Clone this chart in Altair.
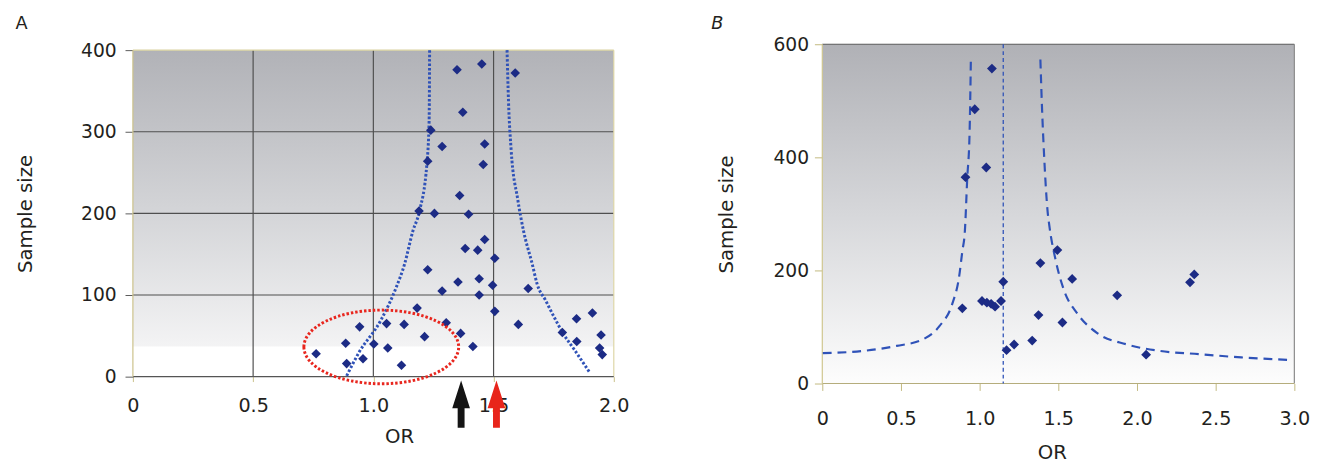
import altair as alt
import pandas as pd

FONT = "DejaVu Sans"
TXT = "#231f20"
PT = "#1c2b85"
LINE = "#2f52b8"

# ---------------- Panel A data ----------------
a_or = [1.348, 1.451, 1.590, 1.372, 1.239, 1.286, 1.463, 1.226, 1.457, 1.359, 1.190, 1.254, 1.396,
        1.463, 1.382, 1.434, 1.505, 1.226, 1.352, 1.440, 1.496, 1.286, 1.440, 1.644, 1.182, 1.505,
        1.128, 1.303, 1.603, 1.213, 1.363, 1.414, 1.117, 0.762, 0.885, 0.943, 0.889, 0.957, 1.002,
        1.055, 1.060, 1.845, 1.911, 1.786, 1.846, 1.947, 1.941, 1.952]
a_n = [376, 383, 372, 324, 302, 282, 285, 264, 260, 222, 203, 200, 199,
       168, 157, 155, 145, 131, 116, 120, 112, 105, 100, 108, 84, 80,
       64, 66, 64, 49, 53, 37, 14, 28, 41, 61, 16, 22, 40,
       65, 35, 71, 78, 54, 43, 51, 35, 27]

a_left_or = [0.889, 0.939, 1.032, 1.096, 1.130, 1.164, 1.191, 1.223, 1.232, 1.234]
a_left_n = [1, 29, 69.5, 110, 138, 178, 202, 262, 314, 400]
a_right_or = [1.900, 1.836, 1.789, 1.751, 1.716, 1.681, 1.661, 1.625, 1.600, 1.573, 1.562, 1.556]
a_right_n = [5, 33, 53, 73.5, 93.6, 113.6, 137.7, 178, 218, 278, 338, 400]

a_grid_x = [0.5, 1.0, 1.5]
a_grid_y = [100, 200, 300]
a_xticks = [0, 0.5, 1.0, 1.5, 2.0]
a_yticks = [0, 100, 200, 300, 400]

a_arrow_or = [1.365, 1.512]
a_arrow_col = ["black", "red"]
a_ellipse_or = [1.033]
a_ellipse_n = [36.4]

# ---------------- Panel B data ----------------
b_or = [1.078, 0.969, 1.042, 0.910, 0.890, 1.015, 1.046, 1.073, 1.098, 1.136, 1.150, 1.171,
        1.219, 1.334, 1.374, 1.386, 1.494, 1.588, 1.526, 1.874, 2.058, 2.337, 2.364]
b_n = [557, 485, 382, 365, 133, 146, 143, 141, 136, 146, 180, 59,
       69, 76, 121, 213, 236, 185, 108, 156, 51, 179, 193]

b_left_or = [0.003, 0.264, 0.472, 0.639, 0.743, 0.827, 0.869, 0.890, 0.906, 0.921, 0.936, 0.944]
b_left_n = [53.8, 57.8, 66.5, 78, 101, 141.7, 188, 234, 269, 362, 443, 570]
b_right_or = [1.386, 1.397, 1.411, 1.432, 1.442, 1.484, 1.536, 1.620, 1.745, 1.932, 2.141, 2.392, 2.663, 2.976]
b_right_n = [573, 483, 396, 304, 281, 217, 165, 124, 89.6, 69.4, 57.8, 52, 46.2, 41.6]
b_vline_or = [1.15]
b_xticks = [0, 0.5, 1.0, 1.5, 2.0, 2.5, 3.0]
b_yticks = [0, 200, 400, 600]

# panel A's plot sits a little lower than panel B's: OFF px of empty space above it
OFF = 6
WA, HA = 489, 332
HA_T = HA + OFF
WB, HB = 480, 345

one = pd.DataFrame({"k": [0]})
LBL = "datum.value == 0 ? '0' : format(datum.value, '.1f')"


def axis_x(values, tick_col, tick_size, pad, tx, ty):
    return alt.Axis(values=values, labelExpr=LBL, domain=False, grid=False, ticks=True,
                    tickSize=tick_size, tickColor=tick_col, tickWidth=1,
                    labelFont=FONT, labelFontSize=19.5, labelColor=TXT, labelPadding=pad,
                    labelFlush=False, title="OR", titleFont=FONT, titleFontSize=20,
                    titleFontWeight="normal", titleColor=TXT, titleX=tx, titleY=ty,
                    titleAlign="center", titleBaseline="middle")


def axis_y(values, tick_col, pad, tx, ty):
    return alt.Axis(values=values, format="d", domain=False, grid=False, ticks=True,
                    tickSize=8, tickColor=tick_col, tickWidth=1,
                    labelFont=FONT, labelFontSize=19, labelColor=TXT, labelPadding=pad,
                    labelFlush=False, title="Sample size", titleFont=FONT, titleFontSize=20,
                    titleFontWeight="normal", titleColor=TXT, titleX=tx, titleY=ty,
                    titleAngle=-90, titleAlign="center", titleBaseline="middle")


def gradient(stops):
    return alt.LinearGradient(gradient="linear", x1=0, x2=0, y1=0, y2=1,
                              stops=[alt.GradientStop(color=c, offset=o) for o, c in stops])


def frame(W, top, bottom, colors):
    # colors: top, right, bottom, left
    t, r, b, l = colors
    return [
        alt.Chart(one).mark_rule(color=t, strokeWidth=1.2).encode(x=alt.value(0), x2=alt.value(W), y=alt.value(top)),
        alt.Chart(one).mark_rule(color=r, strokeWidth=1.2).encode(x=alt.value(W), y=alt.value(top), y2=alt.value(bottom)),
        alt.Chart(one).mark_rule(color=b, strokeWidth=1.2).encode(x=alt.value(0), x2=alt.value(W), y=alt.value(bottom)),
        alt.Chart(one).mark_rule(color=l, strokeWidth=1.2).encode(x=alt.value(0), y=alt.value(top), y2=alt.value(bottom)),
    ]


# ---------------- Panel A ----------------
axAx = axis_x(a_xticks, "#c9c08a", 5, 15, 270.7, 61)
axAy = axis_y(a_yticks, "#5a5a5a", 9, -109, OFF + HA / 2)
scAx = alt.Scale(domain=[0, 2], nice=False, zero=False)
scAy = alt.Scale(domain=[0, 400], nice=False, zero=False, range=[HA_T, OFF])


def XA(f):
    return alt.X(f, type="quantitative", scale=scAx, axis=axAx)


def YA(f):
    return alt.Y(f, type="quantitative", scale=scAy, axis=axAy)


bgA = alt.Chart(one).mark_rect(
    color=gradient([(0, "#b1b2b7"), (0.5, "#d4d5d8"), (0.905, "#f3f3f4"), (0.91, "#ffffff"), (1, "#ffffff")])
).encode(x=alt.value(0), x2=alt.value(WA), y=alt.value(OFF), y2=alt.value(HA_T))

gridAx = alt.Chart(pd.DataFrame({"g": a_grid_x})).mark_rule(color="#4f4f4f", strokeWidth=1.2).encode(
    x=XA("g"), y=alt.value(OFF), y2=alt.value(HA_T))
gridAy = alt.Chart(pd.DataFrame({"g": a_grid_y})).mark_rule(color="#4f4f4f", strokeWidth=1.2).encode(
    y=YA("g"), x=alt.value(0), x2=alt.value(WA))

funA = pd.concat([
    pd.DataFrame({"or": a_left_or, "n": a_left_n, "side": "left"}),
    pd.DataFrame({"or": a_right_or, "n": a_right_n, "side": "right"}),
])
linesA = alt.Chart(funA).mark_line(color=LINE, strokeWidth=3, strokeDash=[2.5, 2],
                                   interpolate="monotone", opacity=1).encode(
    x=XA("or"), y=YA("n"), detail="side:N")

ptsA = alt.Chart(pd.DataFrame({"or": a_or, "n": a_n})).mark_point(
    shape="diamond", filled=True, color=PT, size=95, opacity=1).encode(x=XA("or"), y=YA("n"))

ELL = ("M-1,0 C-1,-0.263 -0.552,-0.476 0,-0.476 C0.552,-0.476 1,-0.263 1,0 "
       "C1,0.263 0.552,0.476 0,0.476 C-0.552,0.476 -1,0.263 -1,0 Z")
ellA = alt.Chart(pd.DataFrame({"or": a_ellipse_or, "n": a_ellipse_n})).mark_point(
    shape=ELL, filled=False, color="#e8261e", size=24775, strokeWidth=3,
    strokeDash=[2.5, 2], opacity=1).encode(x=XA("or"), y=YA("n"))

ARROW = "M0,-1 L0.375,0.17 L0.146,0.17 L0.146,1 L-0.146,1 L-0.146,0.17 L-0.375,0.17 Z"
arrA = alt.Chart(pd.DataFrame({"or": a_arrow_or, "c": a_arrow_col})).mark_point(
    shape=ARROW, filled=True, size=2304, opacity=1, strokeWidth=0).encode(
    x=XA("or"), y=alt.value(OFF + 360),
    color=alt.Color("c:N", scale=alt.Scale(domain=["black", "red"], range=["#141414", "#e8251b"]), legend=None))

letA = alt.Chart(one).mark_text(text="A", align="left", baseline="middle", font=FONT,
                                fontSize=18, color=TXT).encode(x=alt.value(-119.3), y=alt.value(OFF - 26))

chartA = alt.layer(
    bgA, gridAx, gridAy,
    *frame(WA, OFF, HA_T, ["#d9d29f", "#ddd6a6", "#555555", "#cbc28a"]),
    linesA, ptsA, ellA, arrA, letA
).properties(width=WA, height=HA_T)

# ---------------- Panel B ----------------
axBx = axis_x(b_xticks, "#c2b97e", 7, 20, 233.5, 70)
axBy = axis_y(b_yticks, "#c2b97e", 6, -97, HB / 2)
scBx = alt.Scale(domain=[0, 3], nice=False, zero=False)
scBy = alt.Scale(domain=[0, 600], nice=False, zero=False)


def XB(f):
    return alt.X(f, type="quantitative", scale=scBx, axis=axBx)


def YB(f):
    return alt.Y(f, type="quantitative", scale=scBy, axis=axBy)


bgB = alt.Chart(one).mark_rect(
    color=gradient([(0, "#b0b1b6"), (0.5, "#d6d7da"), (1, "#fdfdfd")])
).encode(x=alt.value(0), x2=alt.value(WB), y=alt.value(0), y2=alt.value(HB))

funB = pd.concat([
    pd.DataFrame({"or": b_left_or, "n": b_left_n, "side": "left"}),
    pd.DataFrame({"or": b_right_or, "n": b_right_n, "side": "right"}),
])
linesB = alt.Chart(funB).mark_line(color=LINE, strokeWidth=2.2, strokeDash=[9, 6],
                                   interpolate="monotone", opacity=1).encode(
    x=XB("or"), y=YB("n"), detail="side:N")

vlineB = alt.Chart(pd.DataFrame({"or": b_vline_or})).mark_rule(
    color=LINE, strokeWidth=1.3, strokeDash=[4, 3]).encode(x=XB("or"), y=alt.value(0), y2=alt.value(HB))

ptsB = alt.Chart(pd.DataFrame({"or": b_or, "n": b_n})).mark_point(
    shape="diamond", filled=True, color=PT, size=100, opacity=1).encode(x=XB("or"), y=YB("n"))

letB = alt.Chart(one).mark_text(text="B", align="left", baseline="middle", font=FONT,
                                fontSize=18, fontStyle="italic", color=TXT).encode(
    x=alt.value(-112.8), y=alt.value(-20))

chartB = alt.layer(
    bgB,
    *frame(WB, 0, HB, ["#5a5a5a", "#8a8a8a", "#b5ad7c", "#cfc68e"]),
    vlineB, linesB, ptsB, letB
).properties(width=WB, height=HB)

chart = alt.hconcat(chartA, chartB, spacing=83).properties(
    padding={"left": 7, "top": 4, "right": 5, "bottom": 0}
).configure_view(stroke=None)

chart.save("out.html", embed_options={"renderer": "svg", "actions": False})
